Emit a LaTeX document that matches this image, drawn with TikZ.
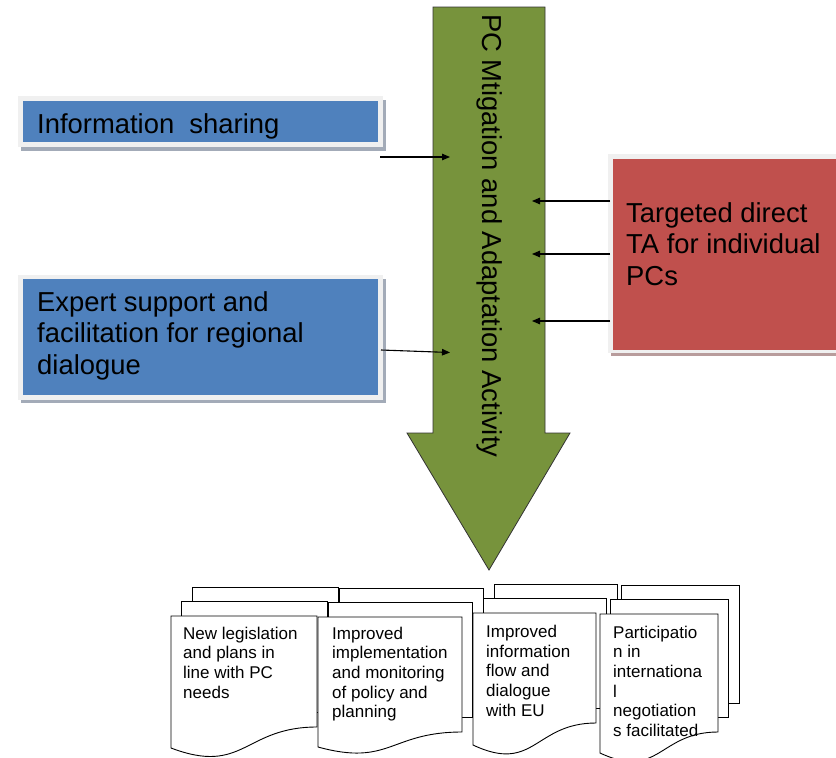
\documentclass[tikz,border=0pt]{standalone}
\usepackage{fontspec}
\setmainfont{Liberation Sans}
\usetikzlibrary{arrows.meta}
\definecolor{boxblue}{HTML}{4F81BD}
\definecolor{boxred}{HTML}{C0504D}
\definecolor{arrgreen}{HTML}{77933C}
\definecolor{framegray}{HTML}{F0F0F0}
\definecolor{shadowblue}{HTML}{A3ABB8}
\definecolor{shadowred}{HTML}{B89C9C}
\newcommand\mylines[1]{\parbox[t]{300pt}{\raggedright #1}}
% L T R yR yL
\newcommand\multidoc[5]{%
  \fill[white] (#1+21,#2-29) rectangle (#3+21,#4-29);
  \draw[docline] (#1+21,#2-14.5) -- (#1+21,#2-29) -- (#3+21,#2-29) -- (#3+21,#4-29) -- (#3+10.5,#4-29);
  \fill[white] (#1+10.5,#2-14.5) rectangle (#3+10.5,#4-14.5);
  \draw[docline] (#1+10.5,#2) -- (#1+10.5,#2-14.5) -- (#3+10.5,#2-14.5) -- (#3+10.5,#4-14.5) -- (#3,#4-14.5);
  \draw[docline, fill=white] (#1,#2) -- (#3,#2) -- (#3,#4)
     .. controls ({(#1+#3)/2},#4) and ({(#1+#3)/2},{#4+2.316*(#5-#4)}) .. (#1,#5) -- cycle;
}
\begin{document}
\begin{tikzpicture}[x=1pt,y=-1pt,
  bigtext/.style={font=\fontsize{27.4}{31.5}\selectfont, inner sep=0, anchor=base west},
  doctext/.style={font=\fontsize{17}{19.7}\selectfont, inner sep=0, anchor=base west},
  docline/.style={draw=black, line width=0.9pt, line join=miter},
  conn/.style={draw=black, line width=1.1pt, -{Triangle[length=8pt,width=6.5pt]}}]
\useasboundingbox (0,0) rectangle (836,758);
\clip (0,0) rectangle (836,758);

% green activity arrow
\draw[fill=arrgreen, draw=black!80, line width=0.8pt]
  (433,7) -- (545,7) -- (545,433) -- (570,433) -- (489,570) -- (407,433) -- (433,433) -- cycle;
\node[bigtext, rotate=-90] (act) at (482,14) {PC Mtigation and Adaptation Activity};

% blue box 1
\fill[shadowblue] (21,100) rectangle (386,151);
\fill[framegray] (18,96) rectangle (383,147);
\fill[boxblue] (23,101) rectangle (378,142);
\node[bigtext] (info) at (37,133) {Information\ \ sharing};

% blue box 2
\fill[shadowblue] (21,279) rectangle (386,403);
\fill[framegray] (18,275) rectangle (383,400);
\fill[boxblue] (23,279) rectangle (378,395);
\node[bigtext] (expert) at (37,311) {\mylines{Expert support and\\facilitation for regional\\dialogue}};

% red box
\fill[shadowred] (611,158) rectangle (840,356);
\fill[framegray] (608,154) rectangle (840,353);
\fill[boxred] (613,159) rectangle (840,350);
\node[bigtext] (ta) at (626,222) {\mylines{Targeted direct\\TA for individual\\PCs}};

% connectors
\coordinate (s1) at (380,157); \coordinate (e1) at (450,157);
\coordinate (s2) at (381,350); \coordinate (e2) at (450,352.5);
\coordinate (s3) at (610,201); \coordinate (e3) at (532,201);
\coordinate (s4) at (610,254); \coordinate (e4) at (532,254);
\coordinate (s5) at (610,321); \coordinate (e5) at (532,321);
\draw[conn] (s1) -- (e1);
\draw[conn] (s2) -- (e2);
\draw[conn] (s3) -- (e3);
\draw[conn] (s4) -- (e4);
\draw[conn] (s5) -- (e5);

% result documents
\multidoc{171}{616}{317}{727}{748}
\node[doctext] (o1) at (183,639) {\mylines{New legislation\\and plans in\\line with PC\\needs}};
\multidoc{318}{617}{462}{732}{747}
\node[doctext] (o2) at (332,639) {\mylines{Improved\\implementation\\and monitoring\\of policy and\\planning}};
\multidoc{473}{613}{596}{723}{745}
\node[doctext] (o3) at (486,637.5) {\mylines{Improved\\information\\flow and\\dialogue\\with EU}};
\multidoc{600}{614}{718}{732}{753}
\node[doctext] (o4) at (613,638) {\mylines{Participatio\\n in\\internationa\\l\\negotiation\\s facilitated}};
\end{tikzpicture}
\end{document}
